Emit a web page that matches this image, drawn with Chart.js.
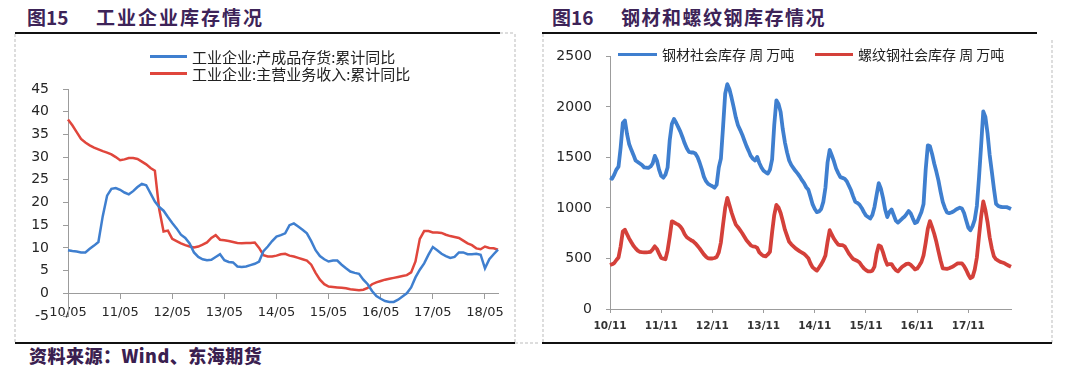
<!DOCTYPE html>
<html>
<head>
<meta charset="utf-8">
<script src="https://cdn.jsdelivr.net/npm/chart.js@4"></script>
<style>
  body { margin: 0; width: 1080px; height: 369px; overflow: hidden; background: #fff; position: relative; font-family: "Noto Sans CJK SC", sans-serif; }
  canvas { position: absolute; }
  .t { position: absolute; font-weight: bold; font-size: 19px; color: #3d2358; line-height: 24px; white-space: nowrap; }
  .lg { position: absolute; display: flex; align-items: center; font-size: 15px; color: #222; white-space: nowrap; height: 17px; line-height: 17px; }
  .lg i { display: inline-block; margin-right: 5px; }
  .src { position: absolute; left: 29px; top: 343px; font-size: 18px; font-weight: 900; color: #3a2050; letter-spacing: 0.5px; line-height: 24px; white-space: nowrap; }
  svg { position: absolute; left: 0; top: 0; }
</style>
</head>
<body>
<svg width="1080" height="369">
  <line x1="15" y1="33" x2="500" y2="33" stroke="#111" stroke-width="2"/>
  <line x1="500" y1="33" x2="515" y2="33" stroke="#bbb" stroke-width="1" stroke-dasharray="3,2"/>
  <line x1="15" y1="34" x2="15" y2="343" stroke="#bbb" stroke-width="1" stroke-dasharray="3,2"/>
  <line x1="515" y1="34" x2="515" y2="343" stroke="#bbb" stroke-width="1" stroke-dasharray="3,2"/>
  <line x1="15" y1="343" x2="515" y2="343" stroke="#111" stroke-width="2"/>
  <line x1="515" y1="343" x2="540" y2="343" stroke="#bbb" stroke-width="1" stroke-dasharray="3,2"/>
  <line x1="542" y1="33" x2="1037" y2="33" stroke="#111" stroke-width="2"/>
  <line x1="543" y1="34" x2="543" y2="343" stroke="#bbb" stroke-width="1" stroke-dasharray="3,2"/>
  <line x1="1052" y1="40" x2="1052" y2="343" stroke="#bbb" stroke-width="1" stroke-dasharray="3,2"/>
  <line x1="542" y1="343" x2="1052" y2="343" stroke="#111" stroke-width="2"/>
</svg>

<div class="t" style="left:27px;top:5px">图15</div>
<div class="t" style="left:96px;top:5px;letter-spacing:2px">工业企业库存情况</div>
<div class="t" style="left:552px;top:5px">图16</div>
<div class="t" style="left:621px;top:5px;letter-spacing:1.5px">钢材和螺纹钢库存情况</div>

<canvas id="c1" width="500" height="308" style="left:15px;top:34px"></canvas>
<canvas id="c2" width="507" height="308" style="left:543px;top:34px"></canvas>

<div class="lg" style="left:150px;top:48px"><i style="width:37px;height:2.5px;background:#3f7fcf"></i>工业企业:产成品存货:累计同比</div>
<div class="lg" style="left:150px;top:65px"><i style="width:37px;height:2.5px;background:#e0463c"></i>工业企业:主营业务收入:累计同比</div>

<div class="lg" style="left:618px;top:46px;font-size:14px"><i style="width:39px;height:3.5px;background:#3f7fcf"></i>钢材社会库存 周 万吨</div>
<div class="lg" style="left:815px;top:46px;font-size:14px"><i style="width:38px;height:3.5px;background:#d4403a"></i>螺纹钢社会库存 周 万吨</div>

<div class="src">资料来源：Wind、东海期货</div>

<script>
// 图15: monthly, 2010-05 .. 2018-08
const leftTickLabels = ['10/05', '11/05', '12/05', '13/05', '14/05', '15/05', '16/05', '17/05', '18/05'];
const inventoryYoY = [
  9.5, 9.3, 9.2, 9.0, 9.0, 9.8, 10.5, 11.3, 17.0, 21.5, 23.0, 23.2, 22.8, 22.2, 21.8, 22.5, 23.4, 24.1, 23.8, 22.0,
  20.2, 19.0, 18.2, 16.8, 15.5, 14.3, 12.9, 12.2, 11.0, 9.0, 8.0, 7.5, 7.3, 7.4, 8.0, 8.6, 7.3, 6.9, 6.8, 5.9,
  5.8, 5.9, 6.2, 6.5, 7.0, 9.3, 10.3, 11.5, 12.5, 12.8, 13.2, 15.0, 15.4, 14.7, 14.0, 13.2, 11.5, 9.5, 8.2, 7.5,
  7.0, 7.2, 7.2, 6.3, 5.5, 4.8, 4.5, 4.3, 3.0, 2.0, 0.5, -0.6, -1.2, -1.7, -1.9, -1.9, -1.4, -0.7, 0.0, 1.3,
  3.5, 5.2, 6.6, 8.5, 10.2, 9.5, 8.7, 8.2, 7.8, 8.0, 9.0, 9.0, 8.6, 8.6, 8.7, 8.5, 5.5, 7.5, 8.6, 9.6
];
const revenueYoY = [
  38.3, 37.0, 35.5, 34.0, 33.2, 32.6, 32.1, 31.7, 31.3, 31.0, 30.6, 30.0, 29.3, 29.5, 29.8, 29.8, 29.6, 29.0, 28.4, 27.6,
  27.0, 18.5, 13.6, 13.8, 12.0, 11.5, 11.0, 10.6, 10.3, 10.1, 10.3, 10.7, 11.2, 12.2, 12.8, 11.8, 11.7, 11.5, 11.3, 11.1,
  11.0, 11.1, 11.1, 11.2, 10.0, 8.4, 8.1, 8.1, 8.3, 8.6, 8.7, 8.3, 8.1, 7.8, 7.5, 7.2, 6.3, 4.5, 3.0, 2.0,
  1.5, 1.4, 1.3, 1.2, 1.1, 0.9, 0.8, 0.7, 0.8, 1.2, 2.0, 2.4, 2.7, 3.0, 3.2, 3.4, 3.6, 3.8, 4.0, 4.6,
  7.0, 12.0, 13.7, 13.7, 13.4, 13.4, 13.3, 12.9, 12.6, 12.4, 12.2, 11.6, 11.0, 10.6, 9.9, 9.7, 10.3, 10.0, 9.9, 9.6
];

// 图16: half-month steps, 2010-11 .. 2018-08
const rightTickLabels = ['10/11', '11/11', '12/11', '13/11', '14/11', '15/11', '16/11', '17/11'];
const steelStock = [
  1300, 1290, 1330, 1380, 1410, 1600, 1840, 1865, 1730, 1630,
  1575, 1525, 1470, 1455, 1440, 1425, 1402, 1400, 1396, 1410,
  1440, 1515, 1470, 1380, 1318, 1300, 1330, 1400, 1670, 1830,
  1880, 1843, 1800, 1755, 1700, 1640, 1590, 1555, 1549, 1549,
  1540, 1505, 1450, 1385, 1310, 1265, 1238, 1226, 1215, 1200,
  1230, 1400, 1490, 1800, 2130, 2225, 2175, 2090, 1995, 1895,
  1818, 1773, 1725, 1668, 1612, 1565, 1515, 1487, 1470, 1505,
  1445, 1400, 1368, 1353, 1340, 1380, 1480, 1820, 2065, 2030,
  1950, 1780, 1650, 1550, 1470, 1425, 1395, 1365, 1340, 1310,
  1275, 1245, 1205, 1180, 1110, 1035, 990, 959, 965, 990,
  1060, 1200, 1450, 1575, 1520, 1460, 1390, 1345, 1305, 1298,
  1290, 1265, 1220, 1175, 1115, 1060, 1050, 1032, 1000, 960,
  925, 910, 895, 930, 1010, 1130, 1245, 1190, 1100, 985,
  910, 960, 985, 930, 875, 855, 875, 895, 912, 940,
  970, 945, 895, 850, 860, 910, 960, 1040, 1380, 1620,
  1610, 1535, 1440, 1360, 1270, 1160, 1060, 1000, 955, 948,
  955, 965, 980, 993, 1003, 995, 950, 875, 805, 780,
  820, 885, 1020, 1300, 1620, 1955, 1900, 1740, 1525, 1360,
  1190, 1040, 1020, 1012, 1009, 1009, 1008, 1000, 990
];
const rebarStock = [
  435, 443, 455, 485, 510, 620, 768, 785, 740, 697,
  660, 625, 600, 578, 565, 562, 560, 560, 562, 566,
  590, 620, 595, 548, 505, 498, 492, 580, 715, 868,
  858, 845, 835, 815, 785, 740, 710, 695, 681, 670,
  650, 625, 600, 570, 540, 518, 501, 500, 500, 505,
  515, 560, 660, 835, 1000, 1100, 1030, 955, 893, 835,
  810, 780, 750, 715, 680, 655, 630, 620, 617, 605,
  560, 540, 525, 520, 540, 566, 760, 930, 1030, 1005,
  950, 870, 785, 725, 665, 640, 620, 600, 585, 570,
  558, 545, 525, 502, 450, 412, 395, 380, 410, 442,
  480, 530, 665, 780, 735, 695, 665, 637, 632, 632,
  620, 585, 548, 520, 495, 485, 475, 460, 430, 403,
  385, 372, 372, 380, 420, 550, 630, 620, 560, 490,
  437, 445, 445, 410, 385, 372, 395, 418, 432, 447,
  450, 436, 415, 392, 400, 430, 465, 530, 655, 795,
  870, 810, 745, 665, 570, 480, 403, 400, 397, 403,
  412, 423, 438, 452, 452, 452, 425, 386, 340, 305,
  318, 390, 510, 720, 915, 1065, 980, 860, 710, 600,
  520, 492, 478, 466, 460, 452, 440, 428, 418
];

function pad(n) { return String(n).padStart(2, '0'); }

const leftMonths = [];
for (let i = 0; i < inventoryYoY.length; i++) {
  const m = 4 + i;
  leftMonths.push(pad((10 + Math.floor(m / 12)) % 100) + '/' + pad(m % 12 + 1));
}
const rightWeeks = [];
for (let k = 0; k < steelStock.length; k++) {
  const m = 10 + Math.floor(k / 2);
  rightWeeks.push(pad((10 + Math.floor(m / 12)) % 100) + '/' + pad(m % 12 + 1));
}

Chart.defaults.font.family = "'DejaVu Sans', sans-serif";
const axisGray = '#9c9c9c';
const textColor = '#262626';

new Chart(document.getElementById('c1'), {
  type: 'line',
  data: {
    labels: leftMonths,
    datasets: [
      { label: '工业企业:产成品存货:累计同比', data: inventoryYoY, borderColor: '#3f7fcf', borderWidth: 2.5 },
      { label: '工业企业:主营业务收入:累计同比', data: revenueYoY, borderColor: '#e0463c', borderWidth: 2.5 }
    ]
  },
  options: {
    responsive: false,
    animation: false,
    devicePixelRatio: 1,
    layout: { padding: { top: 55, right: 17, bottom: 26, left: 0 } },
    plugins: { legend: { display: false }, tooltip: { enabled: false } },
    elements: { point: { radius: 0 }, line: { tension: 0 } },
    scales: {
      x: {
        position: { y: 0 },
        grid: { drawOnChartArea: false, tickLength: 5, color: axisGray },
        border: { color: axisGray },
        afterBuildTicks: s => { s.ticks = s.ticks.filter(t => t.value % 12 === 0); },
        ticks: {
          autoSkip: false, maxRotation: 0, padding: 7, color: textColor, font: { size: 13 },
          callback: v => leftTickLabels[v / 12]
        }
      },
      y: {
        min: -5, max: 45,
        afterFit: s => { s.width = 53; },
        grid: { drawOnChartArea: false, tickLength: 5, color: axisGray },
        border: { color: axisGray },
        ticks: { stepSize: 5, padding: 14, color: textColor, font: { size: 14 } }
      }
    }
  }
});

new Chart(document.getElementById('c2'), {
  type: 'line',
  data: {
    labels: rightWeeks,
    datasets: [
      { label: '钢材社会库存 周 万吨', data: steelStock, borderColor: '#3f7fcf', borderWidth: 3.8 },
      { label: '螺纹钢社会库存 周 万吨', data: rebarStock, borderColor: '#d4403a', borderWidth: 3.8 }
    ]
  },
  options: {
    responsive: false,
    animation: false,
    devicePixelRatio: 1,
    layout: { padding: { top: 21, right: 39, bottom: 0, left: 0 } },
    plugins: { legend: { display: false }, tooltip: { enabled: false } },
    elements: { point: { radius: 0 }, line: { tension: 0, borderJoinStyle: 'round' } },
    scales: {
      x: {
        afterFit: s => { s.height = 33; },
        grid: { drawOnChartArea: false, tickLength: 4, color: axisGray },
        border: { color: axisGray },
        afterBuildTicks: s => { s.ticks = s.ticks.filter(t => t.value % 24 === 0); },
        ticks: {
          autoSkip: false, maxRotation: 0, padding: 7, color: '#333', font: { size: 10.5, weight: 'bold' },
          callback: v => rightTickLabels[v / 24]
        }
      },
      y: {
        min: 0, max: 2500,
        afterFit: s => { s.width = 67; },
        grid: { drawOnChartArea: false, tickLength: 4, color: axisGray },
        border: { color: axisGray },
        ticks: { stepSize: 500, padding: 14, color: textColor, font: { size: 14 }, callback: v => String(v) }
      }
    }
  }
});
</script>
</body>
</html>
